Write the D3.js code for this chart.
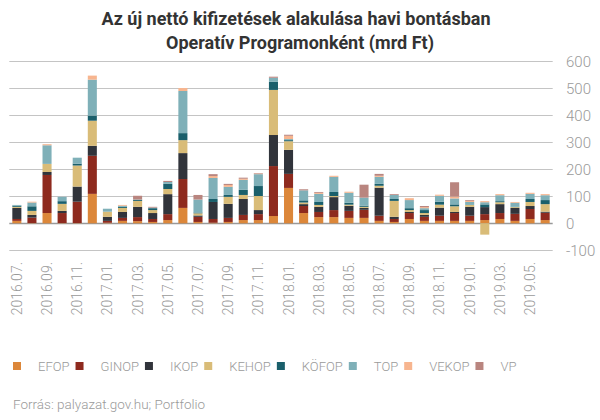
<!DOCTYPE html>
<html>
<head>
<meta charset="utf-8">
<script src="https://cdn.jsdelivr.net/npm/d3@7/dist/d3.min.js"></script>
<style>
  html, body { margin: 0; padding: 0; background: #fff; }
  svg { display: block; font-family: Roboto, "Noto Sans", sans-serif; }
</style>
</head>
<body>
<svg id="chart" width="600" height="420"></svg>
<script>
// ---- data (mrd Ft) ----
const months = [
  "2016.07.","2016.08.","2016.09.","2016.10.","2016.11.","2016.12.",
  "2017.01.","2017.02.","2017.03.","2017.04.","2017.05.","2017.06.",
  "2017.07.","2017.08.","2017.09.","2017.10.","2017.11.","2017.12.",
  "2018.01.","2018.02.","2018.03.","2018.04.","2018.05.","2018.06.",
  "2018.07.","2018.08.","2018.09.","2018.10.","2018.11.","2018.12.",
  "2019.01.","2019.02.","2019.03.","2019.04.","2019.05.","2019.06."
];
const seriesNames = ["EFOP","GINOP","IKOP","KEHOP","KÖFOP","TOP","VEKOP","VP"];
const EFOP  = [9,1,38,1,1,109, 2,9,8,5,12,57, 5,2,5,12,12,27, 131,38,23,23,20,20, 9,5,16,9,9,9, 9,12,16,9,16,12];
const GINOP = [7,20,141,37,79,141, 7,11,15,11,22,107, 19,14,15,19,22,185, 52,26,19,26,26,30, 19,11,22,15,19,29, 19,22,22,26,37,27];
const IKOP  = [41,10,11,8,56,37, 15,22,38,22,74,96, 5,63,52,59,15,115, 89,7,19,48,19,7, 104,8,4,7,30,4, 33,26,33,22,11,4];
const KEHOP = [4,15,30,26,78,93, 19,15,22,11,19,48, 8,0,26,15,52,167, 32,6,7,4,4,4, 7,59,7,7,11,21, 7,-42,7,3,15,28];
const KOFOP = [4,17,0,10,7,19, 0,4,4,7,19,26, 3,11,7,19,37,30, 4,8,11,15,7,4, 7,7,7,11,11,7, 0,10,4,1,11,15];
const TOP   = [3,14,69,16,22,133, 11,4,1,2,7,156, 48,78,30,37,44,15, 4,37,30,56,37,30, 26,15,30,7,22,22, 11,8,22,15,19,18];
const VEKOP = [0,3,4,0,0,15, 0,3,0,0,0,11, 0,7,7,4,2,0, 12,0,4,4,4,0, 4,0,7,4,4,7, 4,4,4,3,4,4];
const VP    = [0,0,0,0,0,0, 0,0,14,3,4,0, 17,7,4,4,2,4, 4,4,3,0,0,48, 7,3,0,4,0,53, 3,0,0,0,0,0];
const yTicks = [-100,0,100,200,300,400,500,600];
const colors = ["#dc873a","#8e2a1e","#31343b","#d9bc78","#1a5f6b","#7fb0b8","#f7b58f","#b9857f"];

const seriesValues = [EFOP,GINOP,IKOP,KEHOP,KOFOP,TOP,VEKOP,VP];
const table = months.map((m,i) => {
  const row = {month: m};
  seriesNames.forEach((s,j) => row[s] = seriesValues[j][i]);
  return row;
});

const svg = d3.select("#chart");

// title
svg.append("text").attr("x", 296).attr("y", 25).attr("text-anchor","middle")
  .attr("font-size", 18).attr("font-weight", 700).attr("fill", "#333")
  .text("Az új nettó kifizetések alakulása havi bontásban");
svg.append("text").attr("x", 300).attr("y", 49).attr("text-anchor","middle")
  .attr("font-size", 18).attr("font-weight", 700).attr("fill", "#333")
  .text("Operatív Programonként (mrd Ft)");

const x = d3.scaleBand().domain(months).range([9.3, 552.7]).paddingInner(0.4).paddingOuter(0.2);
const y = d3.scaleLinear().domain([-100, 600]).range([250.3, 61.3]);

// gridlines
svg.append("g").selectAll("line").data(yTicks).join("line")
  .attr("x1", 9.3).attr("x2", 552.7)
  .attr("y1", d => Math.round(y(d)) + 0.5).attr("y2", d => Math.round(y(d)) + 0.5)
  .attr("stroke", d => d === 0 ? "#999" : "#c4c4c4").attr("stroke-width", d => d === 0 ? 1.5 : 1);

// y labels
svg.append("g").selectAll("text").data(yTicks).join("text")
  .attr("x", 566).attr("y", d => y(d) + 5.5)
  .attr("font-size", 15).attr("font-weight", 300).attr("fill", "#9a9a9a")
  .text(d => d);

// stacked bars
const stack = d3.stack().keys(seriesNames).offset(d3.stackOffsetDiverging);
const layers = stack(table);
svg.append("g").selectAll("g").data(layers).join("g")
  .attr("fill", (d,i) => colors[i])
  .selectAll("rect").data(d => d).join("rect")
  .attr("x", d => x(d.data.month))
  .attr("width", x.bandwidth())
  .attr("y", d => y(Math.max(d[0], d[1])))
  .attr("height", d => Math.abs(y(d[0]) - y(d[1])));

// x labels (every other month)
svg.append("g").selectAll("text").data(months.filter((m,i) => i % 2 === 0)).join("text")
  .attr("transform", d => `translate(${x(d) + x.bandwidth()/2 + 5},262) rotate(-90)`)
  .attr("text-anchor", "end")
  .attr("font-size", 14).attr("font-weight", 300).attr("fill", "#9a9a9a")
  .text(d => d);

// legend
const lg = svg.append("g");
let lx = 13;
seriesNames.forEach((s,i) => {
  lg.append("rect").attr("x", lx).attr("y", 362).attr("width", 8).attr("height", 8).attr("fill", colors[i]);
  const t = lg.append("text").attr("x", lx + 25).attr("y", 371)
    .attr("font-size", 13).attr("font-weight", 300).attr("fill", "#9a9a9a").text(s);
  lx += 25 + t.node().getComputedTextLength() + 6;
});

// source
svg.append("text").attr("x", 13).attr("y", 409)
  .attr("font-size", 13.5).attr("font-weight", 300).attr("fill", "#9a9a9a")
  .text("Forrás: palyazat.gov.hu; Portfolio");
</script>
</body>
</html>
